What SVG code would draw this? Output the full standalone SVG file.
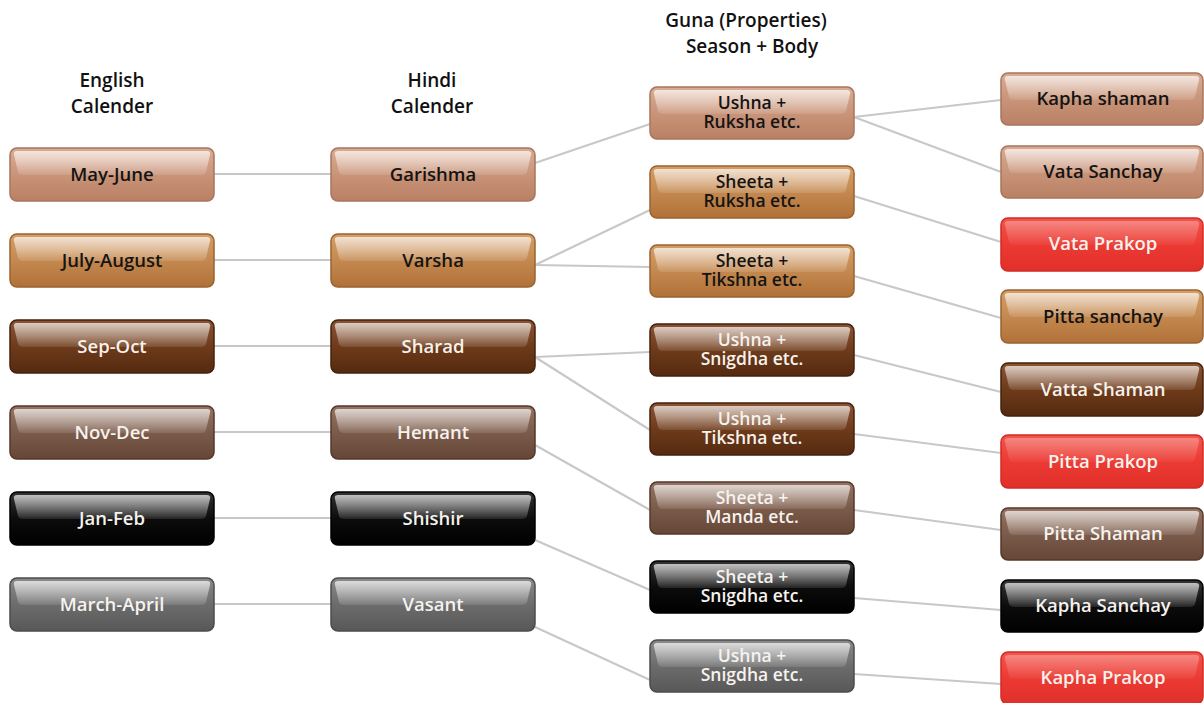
<svg xmlns="http://www.w3.org/2000/svg" width="1204" height="703" viewBox="0 0 1204 703">
<style>
text{font-family:"Open Sans","Liberation Sans",sans-serif;font-weight:600;font-size:18.5px;text-anchor:middle}
.two text{font-size:17.5px}
.hdr{fill:#111;font-size:19px}
.body{stroke-width:1.5}
.gl{fill:url(#gGlass)}
.tan .body{fill:url(#gTan);stroke:#a8765c}
.org .body{fill:url(#gOrg);stroke:#9a6330}
.dbr .body{fill:url(#gDbr);stroke:#44220e}
.gbr .body{fill:url(#gGbr);stroke:#55392b}
.blk .body{fill:url(#gBlk);stroke:#000}
.gry .body{fill:url(#gGry);stroke:#4c4c4c}
.red .body{fill:url(#gRed);stroke:#d42a24}
.red .gl{fill:url(#gGlassR)}
.tan text,.org text{fill:#141414}
.dbr text,.gbr text,.blk text,.gry text,.red text{fill:#f6f2ee}
#connectors line{stroke:#c8c8c8;stroke-width:2.2}
</style>
<defs>
<linearGradient id="gGlass" x1="0" y1="0" x2="0" y2="1"><stop offset="0" stop-color="#fff" stop-opacity="0.7"/><stop offset="1" stop-color="#fff" stop-opacity="0.1"/></linearGradient>
<linearGradient id="gGlassR" x1="0" y1="0" x2="0" y2="1"><stop offset="0" stop-color="#fff" stop-opacity="0.3"/><stop offset="1" stop-color="#fff" stop-opacity="0.04"/></linearGradient>
<linearGradient id="gTan" x1="0" y1="0" x2="0" y2="1"><stop offset="0" stop-color="#d9ac95"/><stop offset="0.5" stop-color="#c99479"/><stop offset="1" stop-color="#b98065"/></linearGradient>
<linearGradient id="gOrg" x1="0" y1="0" x2="0" y2="1"><stop offset="0" stop-color="#d49e68"/><stop offset="0.5" stop-color="#c48950"/><stop offset="1" stop-color="#b07138"/></linearGradient>
<linearGradient id="gDbr" x1="0" y1="0" x2="0" y2="1"><stop offset="0" stop-color="#8a5434"/><stop offset="0.5" stop-color="#6e3b1a"/><stop offset="1" stop-color="#552a10"/></linearGradient>
<linearGradient id="gGbr" x1="0" y1="0" x2="0" y2="1"><stop offset="0" stop-color="#957362"/><stop offset="0.5" stop-color="#7b5b4a"/><stop offset="1" stop-color="#664637"/></linearGradient>
<linearGradient id="gBlk" x1="0" y1="0" x2="0" y2="1"><stop offset="0" stop-color="#333"/><stop offset="0.5" stop-color="#0c0c0c"/><stop offset="1" stop-color="#000"/></linearGradient>
<linearGradient id="gGry" x1="0" y1="0" x2="0" y2="1"><stop offset="0" stop-color="#8a8a8a"/><stop offset="0.5" stop-color="#6c6c6c"/><stop offset="1" stop-color="#585858"/></linearGradient>
<linearGradient id="gRed" x1="0" y1="0" x2="0" y2="1"><stop offset="0" stop-color="#f2554c"/><stop offset="0.5" stop-color="#ec3a33"/><stop offset="1" stop-color="#e0302a"/></linearGradient>
</defs>
<rect width="1204" height="703" fill="#fff"/>

<g id="headers">
<text class="hdr" x="112" y="87">English</text>
<text class="hdr" x="112" y="113">Calender</text>
<text class="hdr" x="432" y="87">Hindi</text>
<text class="hdr" x="432" y="113">Calender</text>
<text class="hdr" x="746" y="27">Guna (Properties)</text>
<text class="hdr" x="752" y="53">Season + Body</text>
</g>

<g id="connectors">
<line x1="214" y1="174" x2="331" y2="174"/>
<line x1="214" y1="260" x2="331" y2="260"/>
<line x1="214" y1="346" x2="331" y2="346"/>
<line x1="214" y1="432" x2="331" y2="432"/>
<line x1="214" y1="518" x2="331" y2="518"/>
<line x1="214" y1="604" x2="331" y2="604"/>
<line x1="535" y1="163" x2="650" y2="124"/>
<line x1="535" y1="265" x2="650" y2="210"/>
<line x1="535" y1="265" x2="650" y2="267"/>
<line x1="535" y1="357" x2="650" y2="352"/>
<line x1="535" y1="357" x2="650" y2="430"/>
<line x1="535" y1="445" x2="650" y2="510"/>
<line x1="535" y1="540" x2="650" y2="590"/>
<line x1="535" y1="627" x2="650" y2="680"/>
<line x1="854" y1="117" x2="1001" y2="100"/>
<line x1="854" y1="117" x2="1001" y2="172"/>
<line x1="854" y1="196" x2="1001" y2="242"/>
<line x1="854" y1="276" x2="1001" y2="318"/>
<line x1="854" y1="355" x2="1001" y2="392"/>
<line x1="854" y1="434" x2="1001" y2="453"/>
<line x1="854" y1="510" x2="1001" y2="530"/>
<line x1="854" y1="598" x2="1001" y2="610"/>
<line x1="854" y1="674" x2="1001" y2="684"/>
</g>

<!-- column 1 -->
<g id="n-may-june" class="tan" transform="translate(10,148)"><rect class="body" width="204" height="53" rx="7"/><path class="gl" d="M7,3 H197 Q201,3 200,7 L196,24 Q195,27 191,27 H13 Q9,27 8,24 L4,7 Q3,3 7,3 Z"/><text x="102" y="33">May-June</text></g>
<g id="n-july-august" class="org" transform="translate(10,234)"><rect class="body" width="204" height="53" rx="7"/><path class="gl" d="M7,3 H197 Q201,3 200,7 L196,24 Q195,27 191,27 H13 Q9,27 8,24 L4,7 Q3,3 7,3 Z"/><text x="102" y="33">July-August</text></g>
<g id="n-sep-oct" class="dbr" transform="translate(10,320)"><rect class="body" width="204" height="53" rx="7"/><path class="gl" d="M7,3 H197 Q201,3 200,7 L196,24 Q195,27 191,27 H13 Q9,27 8,24 L4,7 Q3,3 7,3 Z"/><text x="102" y="33">Sep-Oct</text></g>
<g id="n-nov-dec" class="gbr" transform="translate(10,406)"><rect class="body" width="204" height="53" rx="7"/><path class="gl" d="M7,3 H197 Q201,3 200,7 L196,24 Q195,27 191,27 H13 Q9,27 8,24 L4,7 Q3,3 7,3 Z"/><text x="102" y="33">Nov-Dec</text></g>
<g id="n-jan-feb" class="blk" transform="translate(10,492)"><rect class="body" width="204" height="53" rx="7"/><path class="gl" d="M7,3 H197 Q201,3 200,7 L196,24 Q195,27 191,27 H13 Q9,27 8,24 L4,7 Q3,3 7,3 Z"/><text x="102" y="33">Jan-Feb</text></g>
<g id="n-march-april" class="gry" transform="translate(10,578)"><rect class="body" width="204" height="53" rx="7"/><path class="gl" d="M7,3 H197 Q201,3 200,7 L196,24 Q195,27 191,27 H13 Q9,27 8,24 L4,7 Q3,3 7,3 Z"/><text x="102" y="33">March-April</text></g>

<!-- column 2 -->
<g id="n-garishma" class="tan" transform="translate(331,148)"><rect class="body" width="204" height="53" rx="7"/><path class="gl" d="M7,3 H197 Q201,3 200,7 L196,24 Q195,27 191,27 H13 Q9,27 8,24 L4,7 Q3,3 7,3 Z"/><text x="102" y="33">Garishma</text></g>
<g id="n-varsha" class="org" transform="translate(331,234)"><rect class="body" width="204" height="53" rx="7"/><path class="gl" d="M7,3 H197 Q201,3 200,7 L196,24 Q195,27 191,27 H13 Q9,27 8,24 L4,7 Q3,3 7,3 Z"/><text x="102" y="33">Varsha</text></g>
<g id="n-sharad" class="dbr" transform="translate(331,320)"><rect class="body" width="204" height="53" rx="7"/><path class="gl" d="M7,3 H197 Q201,3 200,7 L196,24 Q195,27 191,27 H13 Q9,27 8,24 L4,7 Q3,3 7,3 Z"/><text x="102" y="33">Sharad</text></g>
<g id="n-hemant" class="gbr" transform="translate(331,406)"><rect class="body" width="204" height="53" rx="7"/><path class="gl" d="M7,3 H197 Q201,3 200,7 L196,24 Q195,27 191,27 H13 Q9,27 8,24 L4,7 Q3,3 7,3 Z"/><text x="102" y="33">Hemant</text></g>
<g id="n-shishir" class="blk" transform="translate(331,492)"><rect class="body" width="204" height="53" rx="7"/><path class="gl" d="M7,3 H197 Q201,3 200,7 L196,24 Q195,27 191,27 H13 Q9,27 8,24 L4,7 Q3,3 7,3 Z"/><text x="102" y="33">Shishir</text></g>
<g id="n-vasant" class="gry" transform="translate(331,578)"><rect class="body" width="204" height="53" rx="7"/><path class="gl" d="M7,3 H197 Q201,3 200,7 L196,24 Q195,27 191,27 H13 Q9,27 8,24 L4,7 Q3,3 7,3 Z"/><text x="102" y="33">Vasant</text></g>

<!-- column 3 -->
<g id="n-ushna-ruksha" class="tan two" transform="translate(650,87)"><rect class="body" width="204" height="52" rx="7"/><path class="gl" d="M7,3 H197 Q201,3 200,7 L196,24 Q195,27 191,27 H13 Q9,27 8,24 L4,7 Q3,3 7,3 Z"/><text x="102" y="22">Ushna +</text><text x="102" y="41">Ruksha etc.</text></g>
<g id="n-sheeta-ruksha" class="org two" transform="translate(650,166)"><rect class="body" width="204" height="52" rx="7"/><path class="gl" d="M7,3 H197 Q201,3 200,7 L196,24 Q195,27 191,27 H13 Q9,27 8,24 L4,7 Q3,3 7,3 Z"/><text x="102" y="22">Sheeta +</text><text x="102" y="41">Ruksha etc.</text></g>
<g id="n-sheeta-tikshna" class="org two" transform="translate(650,245)"><rect class="body" width="204" height="52" rx="7"/><path class="gl" d="M7,3 H197 Q201,3 200,7 L196,24 Q195,27 191,27 H13 Q9,27 8,24 L4,7 Q3,3 7,3 Z"/><text x="102" y="22">Sheeta +</text><text x="102" y="41">Tikshna etc.</text></g>
<g id="n-ushna-snigdha-1" class="dbr two" transform="translate(650,324)"><rect class="body" width="204" height="52" rx="7"/><path class="gl" d="M7,3 H197 Q201,3 200,7 L196,24 Q195,27 191,27 H13 Q9,27 8,24 L4,7 Q3,3 7,3 Z"/><text x="102" y="22">Ushna +</text><text x="102" y="41">Snigdha etc.</text></g>
<g id="n-ushna-tikshna" class="dbr two" transform="translate(650,403)"><rect class="body" width="204" height="52" rx="7"/><path class="gl" d="M7,3 H197 Q201,3 200,7 L196,24 Q195,27 191,27 H13 Q9,27 8,24 L4,7 Q3,3 7,3 Z"/><text x="102" y="22">Ushna +</text><text x="102" y="41">Tikshna etc.</text></g>
<g id="n-sheeta-manda" class="gbr two" transform="translate(650,482)"><rect class="body" width="204" height="52" rx="7"/><path class="gl" d="M7,3 H197 Q201,3 200,7 L196,24 Q195,27 191,27 H13 Q9,27 8,24 L4,7 Q3,3 7,3 Z"/><text x="102" y="22">Sheeta +</text><text x="102" y="41">Manda etc.</text></g>
<g id="n-sheeta-snigdha" class="blk two" transform="translate(650,561)"><rect class="body" width="204" height="52" rx="7"/><path class="gl" d="M7,3 H197 Q201,3 200,7 L196,24 Q195,27 191,27 H13 Q9,27 8,24 L4,7 Q3,3 7,3 Z"/><text x="102" y="22">Sheeta +</text><text x="102" y="41">Snigdha etc.</text></g>
<g id="n-ushna-snigdha-2" class="gry two" transform="translate(650,640)"><rect class="body" width="204" height="52" rx="7"/><path class="gl" d="M7,3 H197 Q201,3 200,7 L196,24 Q195,27 191,27 H13 Q9,27 8,24 L4,7 Q3,3 7,3 Z"/><text x="102" y="22">Ushna +</text><text x="102" y="41">Snigdha etc.</text></g>

<!-- column 4 -->
<g id="n-kapha-shaman" class="tan" transform="translate(1001,73)"><rect class="body" width="202" height="52" rx="7"/><path class="gl" d="M7,3 H195 Q199,3 198,7 L194,24 Q193,27 189,27 H13 Q9,27 8,24 L4,7 Q3,3 7,3 Z"/><text x="102" y="32">Kapha shaman</text></g>
<g id="n-vata-sanchay" class="tan" transform="translate(1001,146)"><rect class="body" width="202" height="52" rx="7"/><path class="gl" d="M7,3 H195 Q199,3 198,7 L194,24 Q193,27 189,27 H13 Q9,27 8,24 L4,7 Q3,3 7,3 Z"/><text x="102" y="32">Vata Sanchay</text></g>
<g id="n-vata-prakop" class="red" transform="translate(1001,218)"><rect class="body" width="202" height="53" rx="7"/><path class="gl" d="M7,3 H195 Q199,3 198,7 L194,24 Q193,27 189,27 H13 Q9,27 8,24 L4,7 Q3,3 7,3 Z"/><text x="102" y="32">Vata Prakop</text></g>
<g id="n-pitta-sanchay" class="org" transform="translate(1001,290)"><rect class="body" width="202" height="53" rx="7"/><path class="gl" d="M7,3 H195 Q199,3 198,7 L194,24 Q193,27 189,27 H13 Q9,27 8,24 L4,7 Q3,3 7,3 Z"/><text x="102" y="33">Pitta sanchay</text></g>
<g id="n-vatta-shaman" class="dbr" transform="translate(1001,363)"><rect class="body" width="202" height="53" rx="7"/><path class="gl" d="M7,3 H195 Q199,3 198,7 L194,24 Q193,27 189,27 H13 Q9,27 8,24 L4,7 Q3,3 7,3 Z"/><text x="102" y="33">Vatta Shaman</text></g>
<g id="n-pitta-prakop" class="red" transform="translate(1001,435)"><rect class="body" width="202" height="53" rx="7"/><path class="gl" d="M7,3 H195 Q199,3 198,7 L194,24 Q193,27 189,27 H13 Q9,27 8,24 L4,7 Q3,3 7,3 Z"/><text x="102" y="33">Pitta Prakop</text></g>
<g id="n-pitta-shaman" class="gbr" transform="translate(1001,508)"><rect class="body" width="202" height="52" rx="7"/><path class="gl" d="M7,3 H195 Q199,3 198,7 L194,24 Q193,27 189,27 H13 Q9,27 8,24 L4,7 Q3,3 7,3 Z"/><text x="102" y="32">Pitta Shaman</text></g>
<g id="n-kapha-sanchay" class="blk" transform="translate(1001,580)"><rect class="body" width="202" height="52" rx="7"/><path class="gl" d="M7,3 H195 Q199,3 198,7 L194,24 Q193,27 189,27 H13 Q9,27 8,24 L4,7 Q3,3 7,3 Z"/><text x="102" y="32">Kapha Sanchay</text></g>
<g id="n-kapha-prakop" class="red" transform="translate(1001,652)"><rect class="body" width="202" height="52" rx="7"/><path class="gl" d="M7,3 H195 Q199,3 198,7 L194,24 Q193,27 189,27 H13 Q9,27 8,24 L4,7 Q3,3 7,3 Z"/><text x="102" y="32">Kapha Prakop</text></g>
</svg>
